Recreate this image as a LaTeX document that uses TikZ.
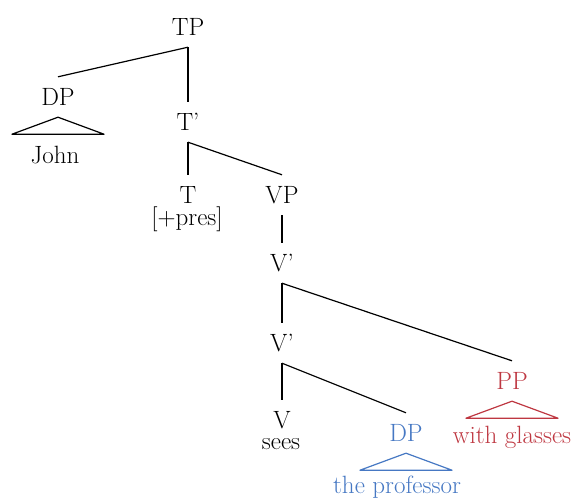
\documentclass[tikz,border=0pt]{standalone}
\usepackage{xcolor}
\definecolor{dpblue}{RGB}{70,120,195}
\definecolor{ppred}{RGB}{190,55,65}

\begin{document}
\begin{tikzpicture}[x=1pt, y=-1pt,
    every node/.style={font=\rmfamily\fontsize{25}{29}\selectfont},
    cat/.style={inner xsep=1pt, inner ysep=0pt, text height=17pt, text depth=0pt, minimum height=40pt},
    word/.style={inner sep=0pt, anchor=base},
    branch/.style={line width=1.2pt},
    roof/.style={line width=1.2pt, line join=round}]
    \useasboundingbox (0,0) rectangle (578,500);

    % Subject and T'
    \node[cat] (tp) at (188,27) {TP};
    \node[cat] (dpsubj) at (58,97) {DP};
    \node[word] (john) at (55,163) {John};
    \node[cat] (tbar) at (188,122) {T'};
    \draw[branch] (tp.south) -- (dpsubj.north);
    \draw[branch] (tp.south) -- (tbar.north);
    \draw[roof] (dpsubj.south) -- ++(-46,17) -- ++(92,0) -- cycle;

    % T and VP
    \node[cat] (t) at (188,195) {T};
    \node[word] (pres) at (187,225) {[+pres]};
    \node[cat] (vp) at (282,195) {VP};
    \draw[branch] (tbar.south) -- (t.north);
    \draw[branch] (tbar.south) -- (vp.north);

    % V' levels
    \node[cat] (vbartop) at (282,263) {V'};
    \node[cat] (vbarlow) at (282,343) {V'};
    \draw[branch] (vp.south) -- (vbartop.north);
    \draw[branch] (vbartop.south) -- (vbarlow.north);

    % Adjunct PP
    \node[cat, ppred] (pp) at (512,381) {PP};
    \node[word, ppred] (glasses) at (512,443) {with glasses};
    \draw[branch] (vbartop.south) -- (pp.north);
    \draw[roof, ppred] (pp.south) -- ++(-46,17) -- ++(92,0) -- cycle;

    % V and object DP
    \node[cat] (v) at (282,420) {V};
    \node[word] (sees) at (281,449) {sees};
    \node[cat, dpblue] (dpobj) at (406,433) {DP};
    \node[word, dpblue] (prof) at (397,493) {the professor};
    \draw[branch] (vbarlow.south) -- (v.north);
    \draw[branch] (vbarlow.south) -- (dpobj.north);
    \draw[roof, dpblue] (dpobj.south) -- ++(-46,17) -- ++(92,0) -- cycle;
\end{tikzpicture}
\end{document}
